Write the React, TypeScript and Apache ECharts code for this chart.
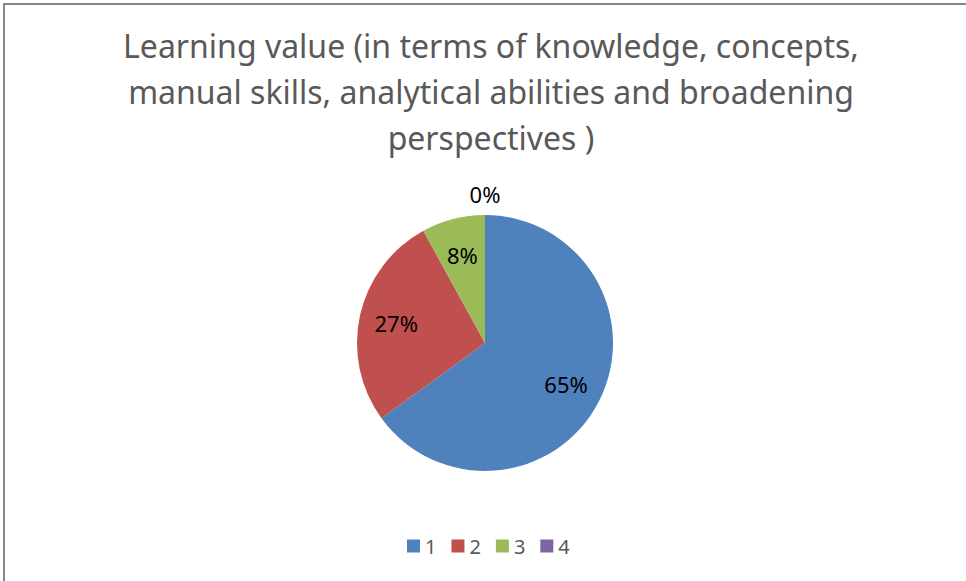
import React, { useEffect, useRef } from "react";
import * as echarts from "echarts";

const titleLines = [
  "Learning value (in terms of knowledge, concepts,",
  "manual skills, analytical abilities and broadening",
  "perspectives )",
];
const categories = ["1", "2", "3", "4"];
const values = [65, 27, 8, 0];
const colors = ["#4F81BD", "#C0504D", "#9BBB59", "#8064A2"];

const FONT = "'Noto Sans', 'Open Sans', sans-serif";

export default function App() {
  const ref = useRef<HTMLDivElement>(null);
  useEffect(() => {
    if (!ref.current) return;
    const chart = echarts.init(ref.current, null, { renderer: "svg" });
    const data = categories.map((c, i) => ({ name: c, value: values[i] }));
    const fmt = (p: any) => `${Math.round(p.percent)}%`;
    chart.setOption({
      animation: false,
      backgroundColor: "#ffffff",
      color: colors,
      title: {
        text: titleLines.join("\n"),
        left: 486,
        textAlign: "center",
        top: 17,
        textStyle: {
          fontFamily: FONT,
          fontSize: 32,
          fontWeight: "normal",
          color: "#595959",
          lineHeight: 46,
        },
      },
      legend: {
        bottom: 20,
        left: 402,
        icon: "rect",
        itemWidth: 13,
        itemHeight: 13,
        itemGap: 15,
        data: categories,
        textStyle: { fontFamily: FONT, fontSize: 20, color: "#595959" },
      },
      graphic: [
        {
          type: "rect",
          shape: { x: 4, y: 4, width: 1200, height: 1200 },
          style: { fill: "none", stroke: "#878787", lineWidth: 2 },
          silent: true,
          z: 100,
        },
      ],
      series: [
        {
          type: "pie",
          center: [485, 343],
          radius: [0, 128],
          startAngle: 90,
          clockwise: true,
          data,
          label: { show: false },
          labelLine: { show: false },
          emphasis: { disabled: true },
        },
        {
          type: "pie",
          center: [485, 343],
          radius: [0, 176],
          startAngle: 90,
          clockwise: true,
          silent: true,
          data: data.map((d, i) => ({
            ...d,
            itemStyle: { color: "rgba(0,0,0,0)" },
            label: { show: i < 3 },
          })),
          label: {
            show: true,
            position: "inside",
            formatter: fmt,
            fontFamily: FONT,
            fontSize: 22,
            color: "#000000",
          },
          labelLine: { show: false },
          emphasis: { disabled: true },
        },
        {
          type: "pie",
          center: [485, 343],
          radius: [0, 292],
          startAngle: 90,
          clockwise: true,
          silent: true,
          data: data.map((d, i) => ({
            ...d,
            itemStyle: { color: "rgba(0,0,0,0)" },
            label: { show: i === 3 },
          })),
          label: {
            show: true,
            position: "inside",
            formatter: fmt,
            fontFamily: FONT,
            fontSize: 22,
            color: "#000000",
          },
          labelLine: { show: false },
          emphasis: { disabled: true },
        },
      ],
    });
    return () => chart.dispose();
  }, []);
  return (
    <div
      ref={ref}
      style={{ position: "absolute", left: 0, top: 0, width: 966, height: 581 }}
    />
  );
}
